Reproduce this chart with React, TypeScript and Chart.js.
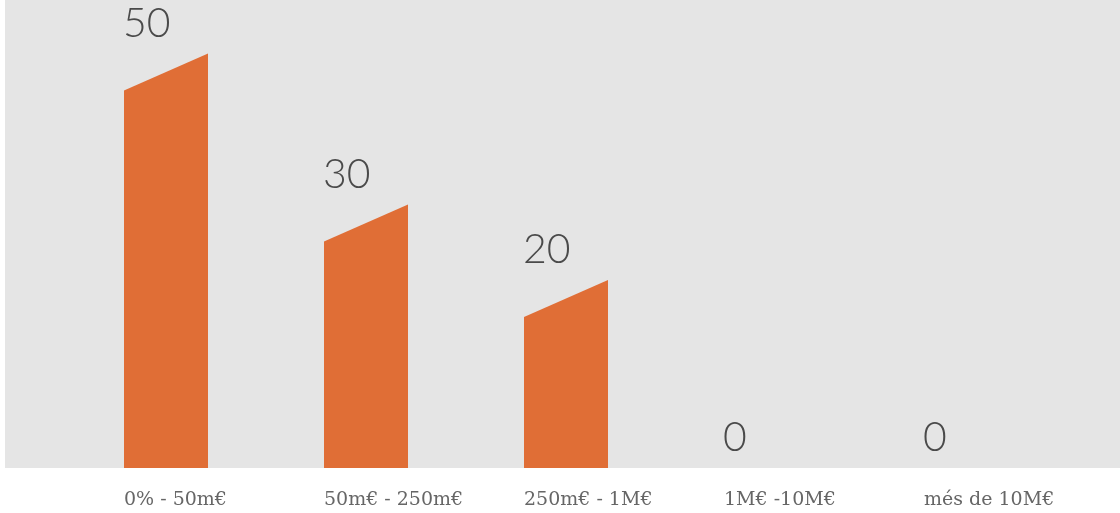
import React, { useEffect, useRef } from "react";
import { Chart, registerables } from "chart.js";

Chart.register(...registerables);

const categories = ["0% - 50m€", "50m€ - 250m€", "250m€ - 1M€", "1M€ -10M€", "més de 10M€"];
const values = [50, 30, 20, 0, 0];

const BAR_COLOR = "#e06e36";
const BG_COLOR = "#e5e5e5";
const SLANT = 37;

const slantBars = {
  id: "slantBars",
  beforeDraw(chart: any) {
    const { ctx, chartArea } = chart;
    ctx.save();
    ctx.fillStyle = BG_COLOR;
    ctx.fillRect(5, 0, chart.width - 5, chartArea.bottom);
    ctx.restore();
  },
  afterDatasetsDraw(chart: any) {
    const { ctx } = chart;
    const meta = chart.getDatasetMeta(0);
    const data = chart.data.datasets[0].data as number[];
    ctx.save();
    meta.data.forEach((el: any, i: number) => {
      const { x, y, base, width } = el.getProps(["x", "y", "base", "width"], true);
      const left = x - width / 2;
      const right = x + width / 2;
      const v = data[i];
      if (v > 0) {
        ctx.fillStyle = BAR_COLOR;
        ctx.beginPath();
        ctx.moveTo(left, base);
        ctx.lineTo(left, y);
        ctx.lineTo(right, y - SLANT);
        ctx.lineTo(right, base);
        ctx.closePath();
        ctx.fill();
      }
      const topRight = v > 0 ? y - SLANT : base;
      ctx.fillStyle = "#4a4a4a";
      ctx.font = "300 41px Lato, 'Open Sans', sans-serif";
      ctx.textAlign = "left";
      ctx.textBaseline = "alphabetic";
      ctx.fillText(String(v), left - 1, topRight - 17);
    });
    ctx.restore();
  },
};

export default function App() {
  const ref = useRef<HTMLCanvasElement | null>(null);
  useEffect(() => {
    if (!ref.current) return;
    const chart = new Chart(ref.current, {
      type: "bar",
      data: {
        labels: categories,
        datasets: [
          {
            data: values,
            backgroundColor: "rgba(0,0,0,0)",
            borderWidth: 0,
            categoryPercentage: 1,
            barPercentage: 0.42,
          },
        ],
      },
      options: {
        responsive: false,
        animation: false,
        devicePixelRatio: 1,
        layout: { padding: { left: 66, right: 54, top: 0, bottom: 0 } },
        plugins: { legend: { display: false }, tooltip: { enabled: false } },
        scales: {
          y: { display: false, min: 0, max: 62 },
          x: {
            grid: { display: false, drawTicks: false },
            border: { display: false },
            ticks: {
              align: "start",
              labelOffset: -42,
              padding: 21,
              autoSkip: false,
              maxRotation: 0,
              color: "#666666",
              font: { family: "'DejaVu Serif', serif", size: 19 },
            },
            afterFit: (s: any) => {
              s.height = 45;
              s.paddingLeft = 0;
              s.paddingRight = 0;
            },
          },
        },
      },
      plugins: [slantBars],
    } as any);
    return () => chart.destroy();
  }, []);
  return (
    <div style={{ position: "absolute", left: 0, top: 0, width: 1120, height: 513 }}>
      <canvas ref={ref} width={1120} height={513} />
    </div>
  );
}
